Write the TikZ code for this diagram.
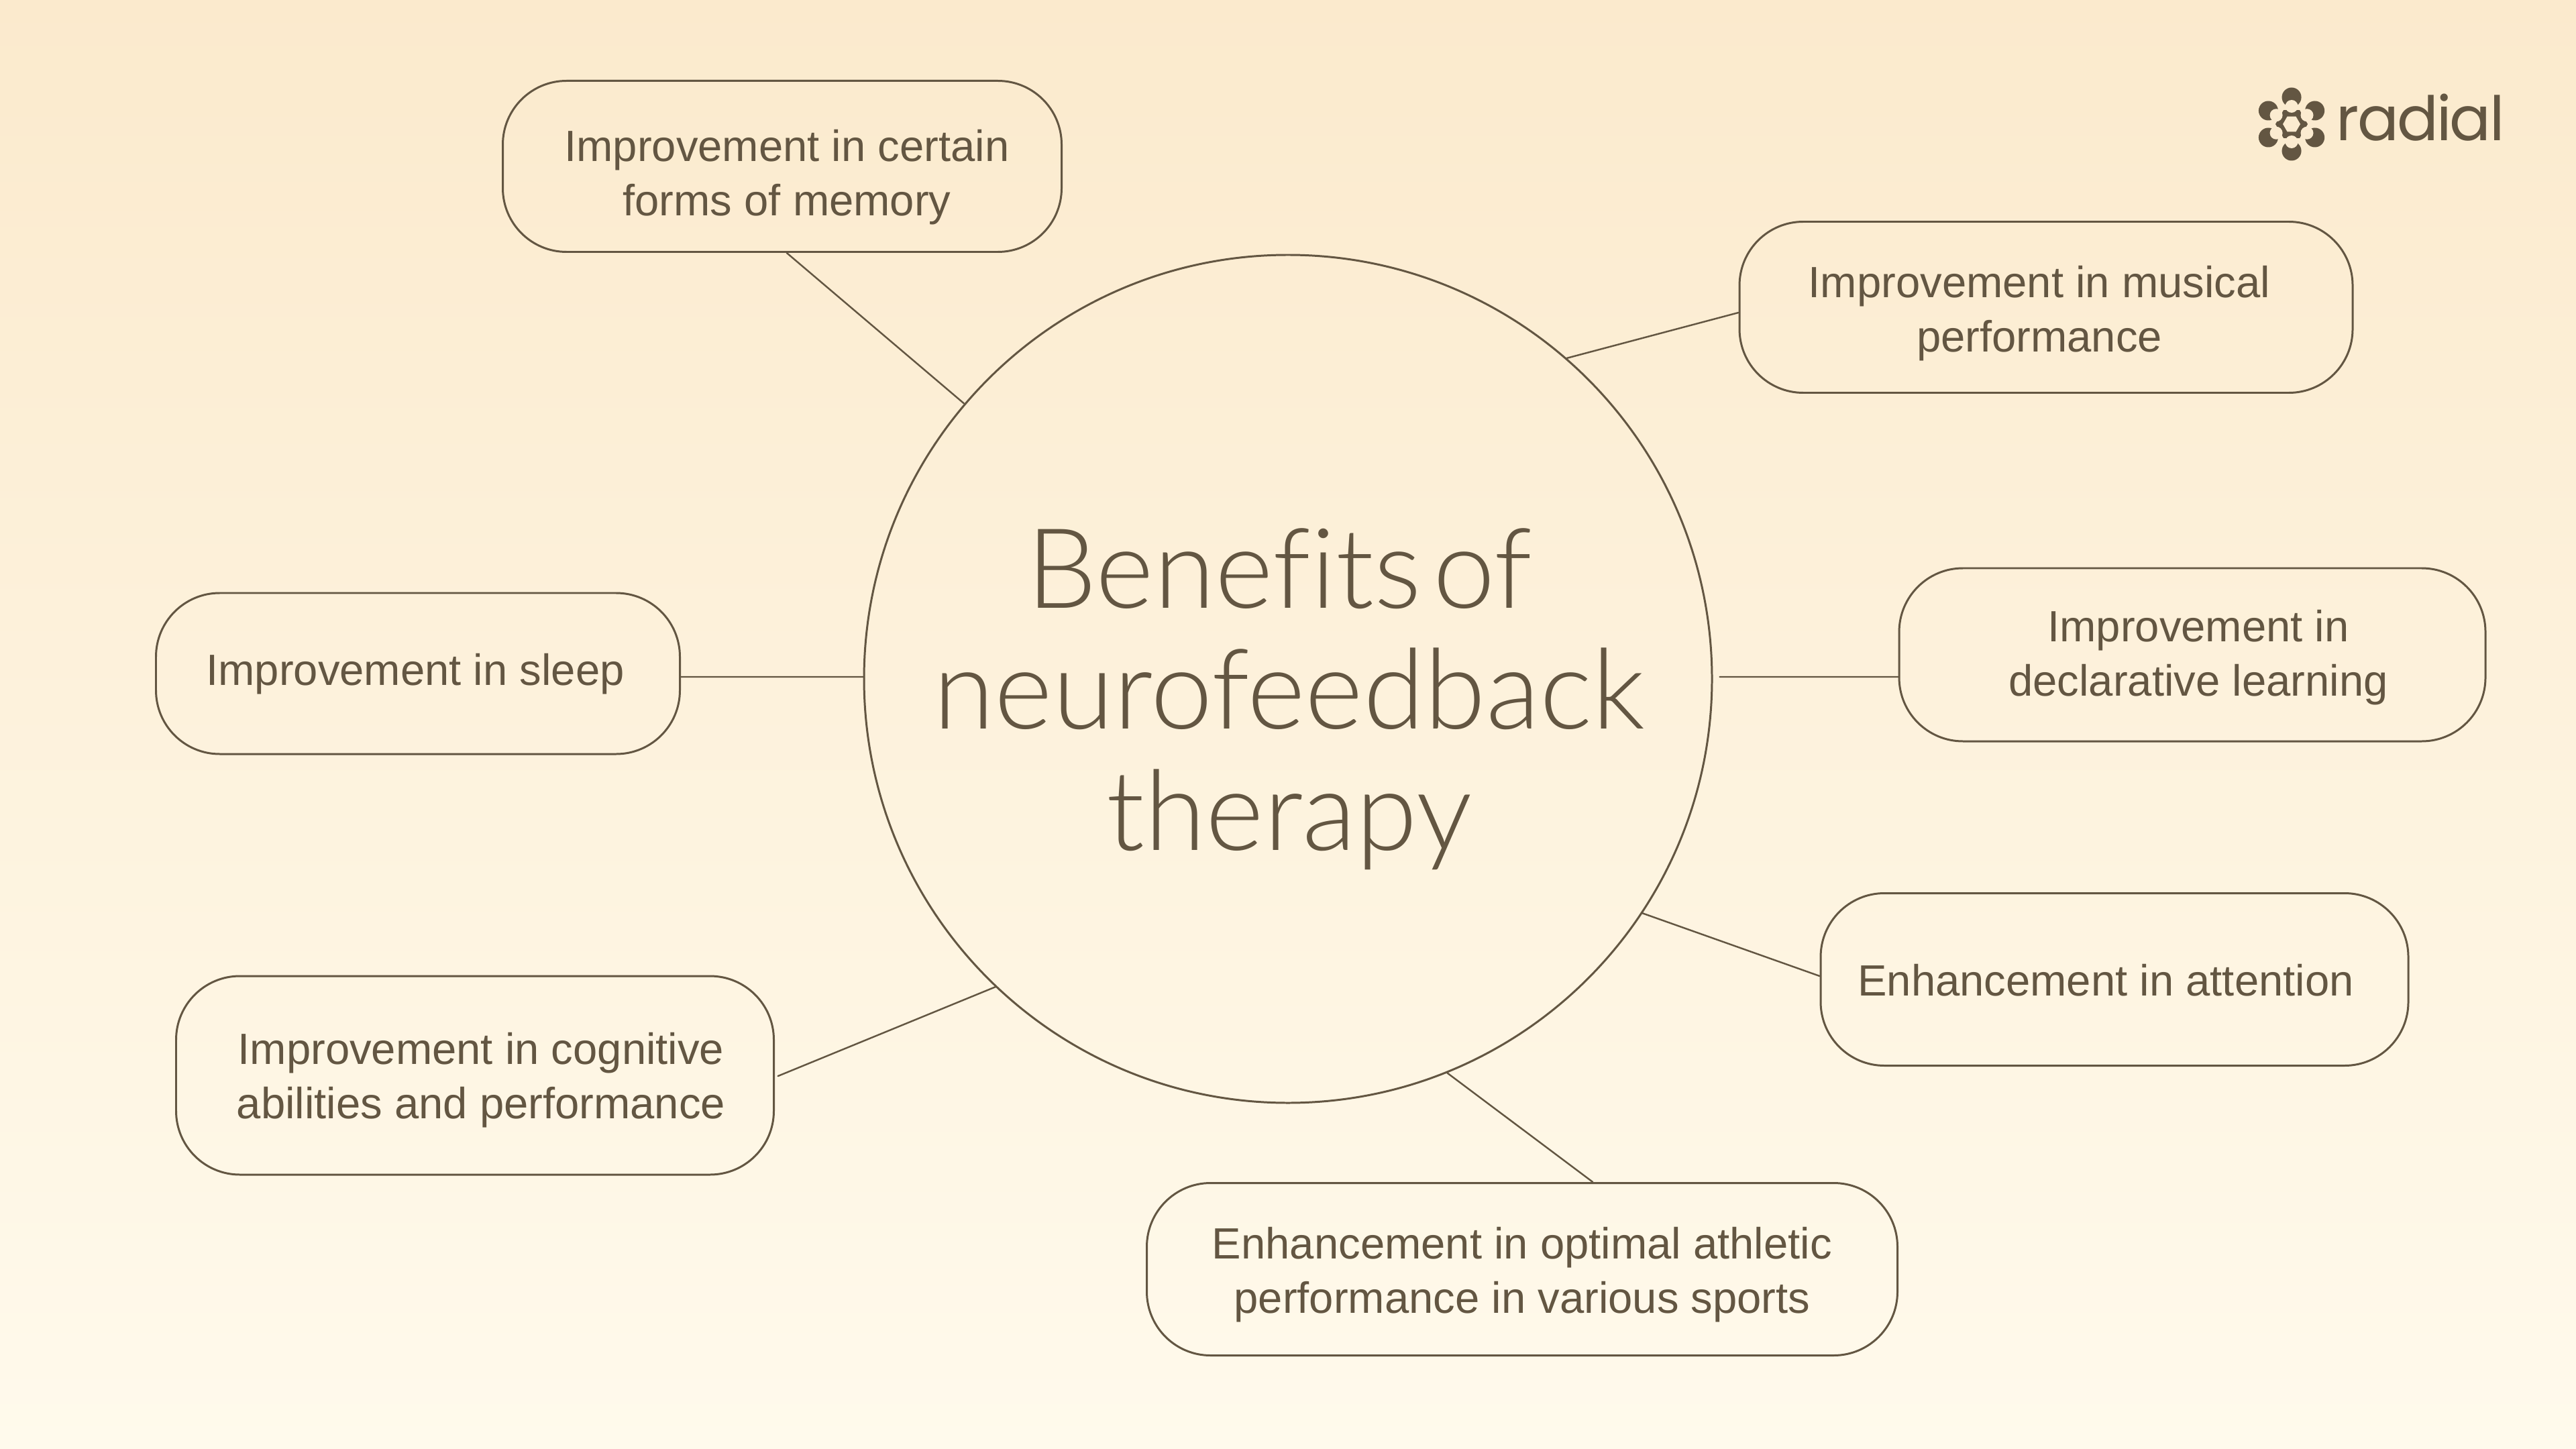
\documentclass[tikz,border=0pt]{standalone}
\usepackage{fontspec}
\setmainfont{Liberation Sans}
\newfontfamily\titlefont[Ligatures=NoCommon,WordSpace=0.4]{Lato Light}
\newfontfamily\logofont[LetterSpace=-3]{Poppins}
\definecolor{inkbrown}{HTML}{635642}
\definecolor{bgtop}{HTML}{FBEACD}
\definecolor{bgbottom}{HTML}{FFFAEC}
\definecolor{bglogo}{HTML}{FBEBD0}
\tikzset{
	itembox/.style={draw=inkbrown,line width=0.85pt,rounded corners=0.95cm,inner sep=0pt},
	itemtext/.style={text=inkbrown,align=center,font=\fontsize{18.55}{23.1}\selectfont,inner sep=0pt},
	link/.style={draw=inkbrown,line width=0.7pt}
}
\begin{document}
\begin{tikzpicture}[x=1cm,y=-1cm,line cap=round]
	\shade[top color=bgtop,bottom color=bgbottom] (0,0) rectangle (38.4,21.6);
	\useasboundingbox (0,0) rectangle (38.4,21.6);
	% centre
	\node[circle,draw=inkbrown,line width=0.85pt,minimum size=12.64cm,inner sep=0pt] (hub) at (19.2,10.12) {};
	\node[text=inkbrown,align=center,font=\titlefont\fontsize{47.2}{51.3}\selectfont,inner sep=0pt] (hubtext) at (19.22,10.42) {\hspace*{-0.3cm}Benefits of\\neurofeedback\\therapy};
	% boxes
	\node[itembox,minimum width=8.33cm,minimum height=2.55cm] (memory) at (11.66,2.48) {};
	\node[itembox,minimum width=9.14cm,minimum height=2.55cm] (musical) at (30.5,4.58) {};
	\node[itembox,minimum width=7.81cm,minimum height=2.4cm] (sleep) at (6.23,10.04) {};
	\node[itembox,minimum width=8.74cm,minimum height=2.58cm] (declarative) at (32.68,9.76) {};
	\node[itembox,minimum width=8.76cm,minimum height=2.57cm] (attention) at (31.52,14.6) {};
	\node[itembox,minimum width=8.91cm,minimum height=2.96cm] (cognitive) at (7.08,16.03) {};
	\node[itembox,minimum width=11.19cm,minimum height=2.57cm] (athletic) at (22.69,18.92) {};
	% texts
	\node[itemtext] (memorytext) at (11.73,2.64) {Improvement in certain\\forms of memory};
	\node[itemtext] (musicaltext) at (30.4,4.67) {Improvement in musical\\performance};
	\node[itemtext] (sleeptext) at (6.19,10.05) {Improvement in sleep};
	\node[itemtext] (declarativetext) at (32.77,9.8) {Improvement in\\declarative learning};
	\node[itemtext] (attentiontext) at (31.39,14.61) {Enhancement in attention};
	\node[itemtext] (cognitivetext) at (7.17,16.1) {Improvement in cognitive\\abilities and performance};
	\node[itemtext] (athletictext) at (22.69,19.0) {Enhancement in optimal athletic\\performance in various sports};
	% connectors
	\draw[link] (memory.-87)--([xshift=-0.05cm,yshift=-0.05cm]hub.139.95);
	\draw[link] (musical.181)--(hub.49);
	\draw[link] ([yshift=-0.05cm]sleep.east)--([yshift=0.03cm]hub.west);
	\draw[link,shorten >=0.1cm] ([yshift=-0.33cm]declarative.west)--([yshift=0.03cm]hub.east);
	\draw[link] ([yshift=0.05cm]attention.west)--([xshift=0.03cm,yshift=0.05cm]hub.-34.05);
	\draw[link,shorten <=0.05cm] ([yshift=-0.03cm]cognitive.east)--([xshift=0.05cm,yshift=-0.03cm]hub.226.85);
	\draw[link] (athletic.51.7)--(hub.-68.6);
	% logo
	\begin{scope}[shift={(34.16,1.85)},y=1cm]
		\fill[inkbrown] (0:0.24) -- (60:0.24) -- (120:0.24) -- (180:0.24) -- (240:0.24) -- (300:0.24) -- cycle;
		\foreach \a in {30,90,...,330}{
			\fill[inkbrown] (\a:0.4) circle (0.145);
			\fill[bglogo] (\a:0.265) circle (0.095);
		}
		\fill[bglogo] (0:0.13) -- (60:0.13) -- (120:0.13) -- (180:0.13) -- (240:0.13) -- (300:0.13) -- cycle;
	\end{scope}
	\node[text=inkbrown,anchor=base west,font=\logofont\fontsize{26}{26}\selectfont,inner sep=0pt] (logotext) at (34.82,2.1) {radial};
\end{tikzpicture}
\end{document}
